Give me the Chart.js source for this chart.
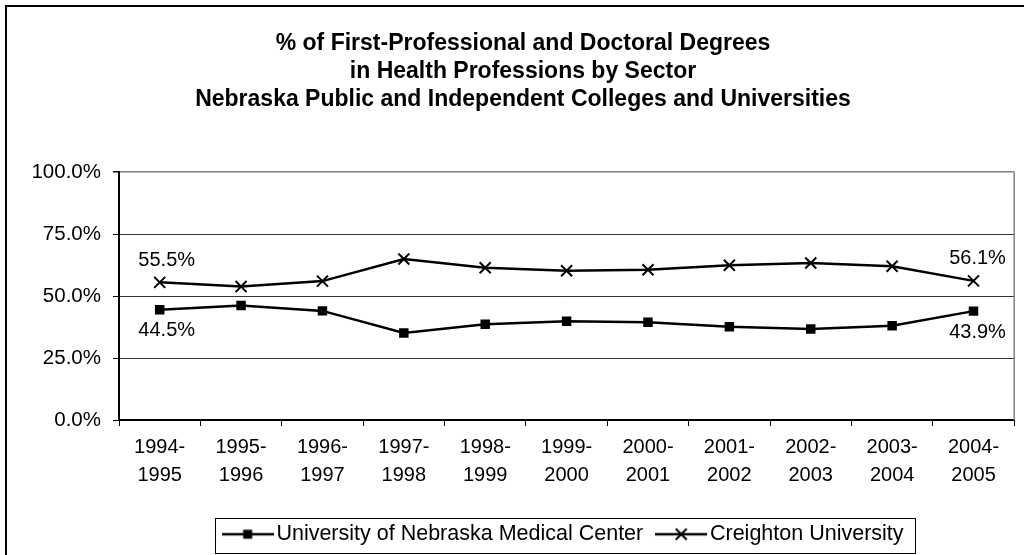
<!DOCTYPE html>
<html lang="en">
<head>
  <meta charset="UTF-8">
  <title>Health Professions Degrees by Sector</title>
  <script src="https://cdn.jsdelivr.net/npm/chart.js"></script>
  <style>
    body { margin: 0; padding: 0; background: #fff; overflow: hidden; }
    #wrap { width: 1024px; height: 555px; }
  </style>
</head>
<body>
  <div id="wrap"><canvas id="degreeChart"></canvas></div>

  <script>
    const years = [
      ['1994-', '1995'], ['1995-', '1996'], ['1996-', '1997'], ['1997-', '1998'],
      ['1998-', '1999'], ['1999-', '2000'], ['2000-', '2001'], ['2001-', '2002'],
      ['2002-', '2003'], ['2003-', '2004'], ['2004-', '2005']
    ];
    const unmc = [44.5, 46.2, 44.0, 35.1, 38.6, 39.8, 39.4, 37.6, 36.7, 38.0, 43.9];
    const creighton = [55.5, 53.8, 56.0, 64.9, 61.4, 60.2, 60.6, 62.4, 63.3, 62.0, 56.1];
    const titleLines = [
      '% of First-Professional and Doctoral Degrees',
      'in Health Professions by Sector',
      'Nebraska Public and Independent Colleges and Universities'
    ];

    const FONT = '"Liberation Sans", Arial, sans-serif';
    Chart.defaults.font.family = FONT;
    Chart.defaults.color = '#000';

    // legend icon: line with the marker in the middle, like Excel
    function makeIcon(style) {
      const c = document.createElement('canvas');
      c.width = 52; c.height = 16;
      const g = c.getContext('2d');
      g.strokeStyle = '#000';
      g.fillStyle = '#000';
      g.lineWidth = 2.5;
      g.beginPath(); g.moveTo(0, 8); g.lineTo(52, 8); g.stroke();
      if (style === 'rect') {
        g.fillRect(21.5, 3.5, 9, 9);
      } else {
        g.lineWidth = 2;
        g.beginPath();
        g.moveTo(20.5, 2.5); g.lineTo(31.5, 13.5);
        g.moveTo(31.5, 2.5); g.lineTo(20.5, 13.5);
        g.stroke();
      }
      return c;
    }
    const icons = [makeIcon('rect'), makeIcon('cross')];
    const ICON_OVERHANG = 8; // icon is 52px wide, legend box slot is 36px

    const framePlugin = {
      id: 'frame',
      afterDraw(chart) {
        const ctx = chart.ctx;
        const a = chart.chartArea;
        ctx.save();
        // outer chart border (runs off the page on right and bottom)
        ctx.strokeStyle = '#000';
        ctx.lineWidth = 2;
        ctx.strokeRect(6, 6, 1200, 1200);
        // right edge of plot area
        ctx.strokeStyle = '#808080';
        ctx.lineWidth = 1.5;
        ctx.beginPath();
        ctx.moveTo(a.right, a.top);
        ctx.lineTo(a.right, a.bottom);
        ctx.stroke();
        // title
        ctx.fillStyle = '#000';
        ctx.font = 'bold 23px ' + FONT;
        ctx.textAlign = 'center';
        ctx.textBaseline = 'middle';
        titleLines.forEach((t, i) => ctx.fillText(t, 523, 44 + i * 28));
        // legend box
        const boxes = chart.legend.legendHitBoxes;
        if (boxes && boxes.length) {
          const first = boxes[0], last = boxes[boxes.length - 1];
          const l = first.left - ICON_OVERHANG - 7, r = last.left + last.width + 11;
          const t = first.top - 6, b = first.top + first.height + 7;
          ctx.strokeStyle = '#000';
          ctx.lineWidth = 1;
          ctx.strokeRect(Math.round(l) + 0.5, Math.round(t) + 0.5, Math.round(r - l), Math.round(b - t));
        }
        ctx.restore();
      }
    };

    const endLabelPlugin = {
      id: 'endLabels',
      afterDatasetsDraw(chart) {
        const ctx = chart.ctx;
        ctx.save();
        ctx.fillStyle = '#000';
        ctx.font = '20px ' + FONT;
        ctx.textAlign = 'center';
        ctx.textBaseline = 'middle';
        chart.data.datasets.forEach((ds, di) => {
          const meta = chart.getDatasetMeta(di);
          const lastIdx = ds.data.length - 1;
          [0, lastIdx].forEach(i => {
            const pt = meta.data[i];
            const dx = i === 0 ? 7 : 4;
            const dy = di === 0 ? 21 : -22;
            ctx.fillText(ds.data[i].toFixed(1) + '%', pt.x + dx, pt.y + dy);
          });
        });
        ctx.restore();
      }
    };

    const ctx = document.getElementById('degreeChart').getContext('2d');
    new Chart(ctx, {
      type: 'line',
      data: {
        labels: years,
        datasets: [
          {
            label: 'University of Nebraska Medical Center',
            data: unmc,
            borderColor: '#000',
            backgroundColor: '#000',
            borderWidth: 2.5,
            pointStyle: 'rect',
            pointRadius: 6.7,
            pointBorderWidth: 0,
            tension: 0
          },
          {
            label: 'Creighton University',
            data: creighton,
            borderColor: '#000',
            backgroundColor: '#000',
            borderWidth: 2.5,
            pointStyle: 'crossRot',
            pointRadius: 7.8,
            pointBorderWidth: 2,
            tension: 0
          }
        ]
      },
      options: {
        responsive: true,
        maintainAspectRatio: false,
        animation: false,
        layout: { padding: { left: 6, top: 172, right: 4, bottom: 0 } },
        scales: {
          x: {
            offset: true,
            grid: { offset: true, drawOnChartArea: false, tickLength: 6, tickColor: '#000', tickWidth: 1 },
            border: { color: '#000', width: 2 },
            ticks: {
              autoSkip: false, maxRotation: 0, padding: 7,
              font: { size: 20, lineHeight: 1.4 }, color: '#000'
            },
            afterFit(scale) { scale.height = 83.5; }
          },
          y: {
            min: 0, max: 100,
            grid: {
              color: c => (c.tick && c.tick.value === 100) ? '#808080' : '#333',
              lineWidth: c => (c.tick && c.tick.value === 100) ? 1.5 : 1,
              tickLength: 6, tickColor: '#000'
            },
            border: { color: '#000', width: 2 },
            ticks: {
              stepSize: 25, padding: 12,
              font: { size: 20.5 }, color: '#000',
              callback: v => v.toFixed(1) + '%'
            },
            afterFit(scale) { scale.width = 113; }
          }
        },
        plugins: {
          title: { display: false },
          tooltip: { enabled: false },
          legend: {
            display: true,
            position: 'bottom',
            fullSize: false,
            labels: {
              usePointStyle: true,
              pointStyleWidth: 36,
              padding: 20,
              color: '#000',
              font: { size: 21.5 },
              generateLabels(chart) {
                const items = Chart.defaults.plugins.legend.labels.generateLabels(chart);
                items.forEach((it, i) => { it.pointStyle = icons[i]; });
                return items;
              }
            }
          }
        }
      },
      plugins: [framePlugin, endLabelPlugin]
    });
  </script>
</body>
</html>
